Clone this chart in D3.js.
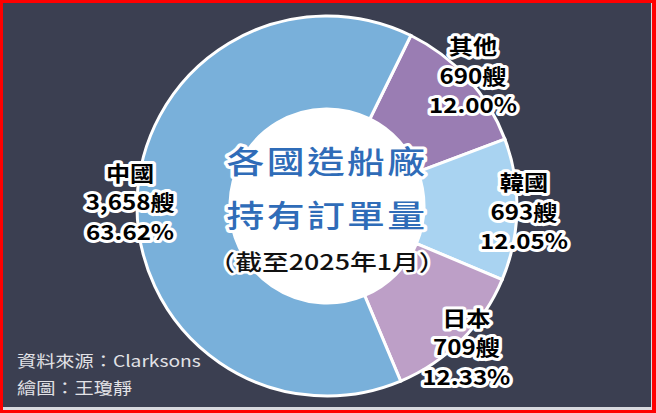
<!DOCTYPE html>
<html>
<head>
<meta charset="utf-8">
<script src="https://cdn.jsdelivr.net/npm/d3@7"></script>
<style>
  body { margin: 0; background: #fff; }
  text { font-family: "Noto Sans CJK TC", "Noto Sans", sans-serif; }
</style>
</head>
<body>
<svg class="donut" width="656" height="413"></svg>
<script>
// data (clockwise from the top-right)
const countries = ["其他", "韓國", "日本", "中國"];
const ships = [690, 693, 709, 3658];
const shares = ["12.00%", "12.05%", "12.33%", "63.62%"];
const titleLines = ["各國造船廠", "持有訂單量"];
const subTitle = "（截至2025年1月）";
const sourceLines = ["資料來源：Clarksons", "繪圖：王瓊靜"];

function drawChart(){
  const width = 656;
  const height = 413;
  const cx = 327, cy = 206;
  const outerR = 190, innerR = 97;

  const svg = d3.select('svg.donut');

  // frame
  svg.append('rect').attr('width', width).attr('height', height).attr('fill', '#ff0000');
  svg.append('rect').attr('x', 3).attr('y', 3).attr('width', 649).attr('height', 407).attr('fill', '#d9dadf');
  svg.append('rect').attr('x', 3).attr('y', 3).attr('width', 648).attr('height', 404).attr('fill', '#3b3f51');

  const colScale = d3.scaleOrdinal()
                    .domain(countries)
                    .range(['#9a7db3', '#a9d3f1', '#bd9fc7', '#79b0da']);

  const start = 26.2 * Math.PI / 180;
  const pie = d3.pie()
    .sort(null)
    .startAngle(start)
    .endAngle(start + 2 * Math.PI)
    .value(d => d.ships);

  const rows = countries.map((c, i) => ({name: c, ships: ships[i], share: shares[i]}));
  const arcData = pie(rows);

  const arc = d3.arc()
    .innerRadius(innerR)
    .outerRadius(outerR);

  const g = svg.append('g')
    .attr('transform', `translate(${cx}, ${cy})`);

  g.selectAll('path')
    .data(arcData)
    .enter()
    .append('path')
    .attr('d', arc)
    .style('fill', d => colScale(d.data.name))
    .style('stroke', '#fff')
    .style('stroke-width', 3);

  g.append('circle')
    .attr('r', innerR)
    .attr('fill', '#fff');

  // centre title
  const tg = g.append('g').attr('transform', 'scale(1.22, 1)');
  tg.selectAll('text.title')
    .data(titleLines)
    .enter()
    .append('text')
    .attr('class', 'title')
    .attr('x', 0)
    .attr('y', (d, i) => -33 + i * 54)
    .attr('text-anchor', 'middle')
    .style('font-size', '31px')
    .style('font-weight', 500)
    .style('letter-spacing', '2px')
    .style('fill', '#2f6cb8')
    .style('stroke', '#fff')
    .style('stroke-width', 6)
    .style('stroke-linejoin', 'round')
    .style('paint-order', 'stroke')
    .text(d => d);

  tg.append('text')
    .attr('x', 0)
    .attr('y', 64)
    .attr('text-anchor', 'middle')
    .style('font-size', '22px')
    .style('font-weight', 500)
    .style('fill', '#111')
    .style('stroke', '#fff')
    .style('stroke-width', 5)
    .style('stroke-linejoin', 'round')
    .style('paint-order', 'stroke')
    .text(subTitle);

  // slice labels
  const labelArc = d3.arc().innerRadius(197).outerRadius(197);

  const lab = g.selectAll('g.lab')
    .data(arcData)
    .enter()
    .append('g')
    .attr('class', 'lab')
    .attr('transform', d => {
      const c = labelArc.centroid(d);
      return `translate(${c[0]}, ${c[1] + 2}) scale(1.15, 1)`;
    });

  lab.selectAll('text')
    .data(d => [d.data.name, d3.format(',')(d.data.ships) + '艘', d.data.share])
    .enter()
    .append('text')
    .attr('x', 0)
    .attr('y', (d, i) => 8 + (i - 1) * 29.5)
    .attr('text-anchor', 'middle')
    .style('font-size', '21px')
    .style('font-weight', 700)
    .style('fill', '#000')
    .style('stroke', '#fff')
    .style('stroke-width', 6)
    .style('stroke-linejoin', 'round')
    .style('paint-order', 'stroke')
    .text(d => d);

  // source note
  svg.append('g')
    .attr('transform', 'translate(17, 0) scale(1.2, 1)')
    .selectAll('text')
    .data(sourceLines)
    .enter()
    .append('text')
    .attr('x', 0)
    .attr('y', (d, i) => 367 + i * 27)
    .style('font-size', '16px')
    .style('fill', '#e2e2e6')
    .text(d => d);
}

drawChart();
</script>
</body>
</html>
